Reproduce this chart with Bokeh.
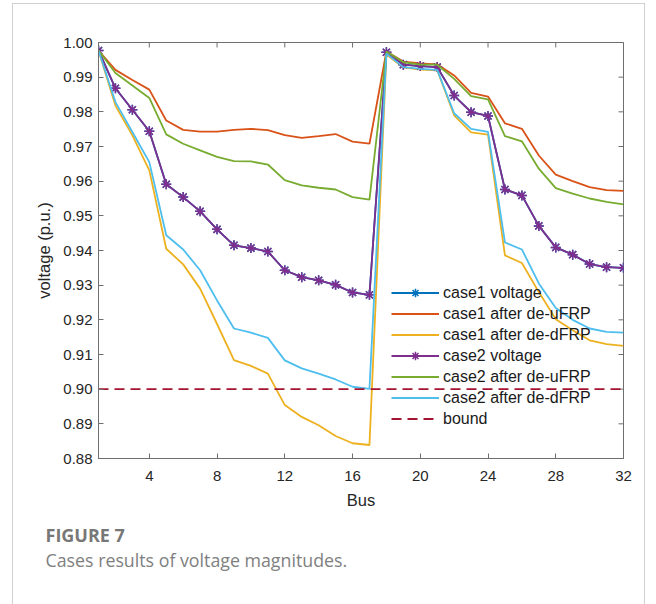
import math
from bokeh.plotting import figure
from bokeh.models import (FixedTicker, Legend, LegendItem, Title,
                          Range1d, PrintfTickFormatter)
from bokeh.embed import file_html
from bokeh.resources import INLINE

# ---------------- data ----------------
bus = list(range(1, 33))

case1_voltage = [0.9977, 0.9868, 0.9806, 0.9744, 0.9591, 0.9554, 0.9513, 0.9461,
                 0.9415, 0.9407, 0.9397, 0.9343, 0.9323, 0.9314, 0.9301, 0.9279,
                 0.9272, 0.9972, 0.9936, 0.9932, 0.9929, 0.9847, 0.9799, 0.9788,
                 0.9576, 0.9559, 0.9471, 0.9409, 0.9388, 0.9361, 0.9352, 0.9350]

case1_uFRP = [0.9977, 0.9921, 0.9892, 0.9864, 0.9775, 0.9748, 0.9743, 0.9743,
              0.9748, 0.9751, 0.9747, 0.9733, 0.9725, 0.9730, 0.9736, 0.9714,
              0.9708, 0.9974, 0.9945, 0.9940, 0.9937, 0.9905, 0.9855, 0.9844,
              0.9767, 0.9751, 0.9674, 0.9619, 0.9600, 0.9583, 0.9574, 0.9572]

case1_dFRP = [0.9977, 0.9818, 0.9732, 0.9631, 0.9405, 0.9360, 0.9290, 0.9188,
              0.9084, 0.9067, 0.9045, 0.8954, 0.8920, 0.8896, 0.8865, 0.8844,
              0.8839, 0.9965, 0.9928, 0.9922, 0.9920, 0.9790, 0.9741, 0.9734,
              0.9386, 0.9364, 0.9280, 0.9202, 0.9170, 0.9141, 0.9130, 0.9125]

case2_voltage = [0.9977, 0.9868, 0.9806, 0.9744, 0.9591, 0.9554, 0.9513, 0.9461,
                 0.9415, 0.9407, 0.9397, 0.9343, 0.9323, 0.9314, 0.9301, 0.9279,
                 0.9272, 0.9972, 0.9936, 0.9932, 0.9929, 0.9847, 0.9799, 0.9788,
                 0.9576, 0.9559, 0.9471, 0.9409, 0.9388, 0.9361, 0.9352, 0.9350]

case2_uFRP = [0.9977, 0.9912, 0.9876, 0.9840, 0.9735, 0.9708, 0.9689, 0.9670,
              0.9658, 0.9657, 0.9648, 0.9603, 0.9588, 0.9581, 0.9576, 0.9554,
              0.9547, 0.9974, 0.9943, 0.9936, 0.9936, 0.9895, 0.9845, 0.9836,
              0.9730, 0.9715, 0.9636, 0.9580, 0.9564, 0.9550, 0.9540, 0.9533]

case2_dFRP = [0.9977, 0.9828, 0.9742, 0.9655, 0.9444, 0.9403, 0.9343, 0.9256,
              0.9175, 0.9163, 0.9148, 0.9083, 0.9060, 0.9045, 0.9028, 0.9007,
              0.9001, 0.9968, 0.9929, 0.9924, 0.9921, 0.9796, 0.9751, 0.9742,
              0.9423, 0.9403, 0.9305, 0.9234, 0.9200, 0.9175, 0.9165, 0.9163]

bound = [0.90] * len(bus)

x_ticks = [4, 8, 12, 16, 20, 24, 28, 32]
y_ticks = [0.88, 0.89, 0.90, 0.91, 0.92, 0.93, 0.94, 0.95, 0.96, 0.97, 0.98, 0.99, 1.00]
x_lim = (1, 32)
y_lim = (0.88, 1.00)

legend_labels = ["case1 voltage", "case1 after de-uFRP", "case1 after de-dFRP",
                 "case2 voltage", "case2 after de-uFRP", "case2 after de-dFRP", "bound"]

fig_label = "FIGURE 7"
fig_caption = "Cases results of voltage magnitudes."

# ---------------- figure ----------------
AX = "#6f6f6f"
TXT = "#262626"
FONT = "Liberation Sans"

p = figure(width=631, height=600, output_backend="svg", toolbar_location=None,
           x_range=Range1d(*x_lim), y_range=Range1d(*y_lim),
           min_border_left=85, min_border_right=21, min_border_top=38,
           min_border_bottom=146, background_fill_color="white",
           border_fill_color="white")
p.margin = (4, 12, 0, 13)
p.styles = {"outline": "1px solid #d0d0d0"}
p.xgrid.visible = False
p.ygrid.visible = False
p.outline_line_color = AX
p.outline_line_width = 1

p.xaxis.ticker = FixedTicker(ticks=x_ticks)
p.yaxis.ticker = FixedTicker(ticks=y_ticks)
p.yaxis.formatter = PrintfTickFormatter(format="%.2f")
p.xaxis.axis_label = "Bus"
p.yaxis.axis_label = "voltage (p.u.)"

for ax in (p.xaxis[0], p.yaxis[0]):
    ax.axis_line_color = AX
    ax.major_tick_line_color = AX
    ax.major_tick_in = 5
    ax.major_tick_out = 0
    ax.minor_tick_line_color = None
    ax.major_label_text_font = FONT
    ax.major_label_text_font_size = "15px"
    ax.major_label_text_color = TXT
    ax.axis_label_text_font = FONT
    ax.axis_label_text_font_size = "16.5px"
    ax.axis_label_text_font_style = "normal"
    ax.axis_label_text_color = TXT
p.xaxis.major_label_standoff = 12
p.yaxis.major_label_standoff = 6
p.xaxis.axis_label_standoff = 7
p.yaxis.axis_label_standoff = 7

# mirrored inward ticks on the top and right edges (half of each dash is clipped)
p.scatter(x_ticks, [y_lim[1]] * len(x_ticks), marker="dash", size=10, angle=math.pi / 2,
          line_color=AX, line_width=1)
p.scatter([x_lim[1]] * len(y_ticks), y_ticks, marker="dash", size=10,
          line_color=AX, line_width=1)

LW = 1.8
r1l = p.line(bus, case1_voltage, line_color="#0072BD", line_width=LW)
r1m = p.scatter(bus, case1_voltage, marker="asterisk", size=10, line_color="#0072BD", line_width=1.5)
r2 = p.line(bus, case1_uFRP, line_color="#D95319", line_width=LW)
r3 = p.line(bus, case1_dFRP, line_color="#EDB120", line_width=LW)
r4l = p.line(bus, case2_voltage, line_color="#7E2F8E", line_width=LW)
r4m = p.scatter(bus, case2_voltage, marker="asterisk", size=10, line_color="#7E2F8E", line_width=1.5)
r5 = p.line(bus, case2_uFRP, line_color="#77AC30", line_width=LW)
r6 = p.line(bus, case2_dFRP, line_color="#4DBEEE", line_width=LW)
r7 = p.line(bus, bound, line_color="#A2142F", line_width=LW, line_dash="10 6")

items = [
    LegendItem(label=legend_labels[0], renderers=[r1l, r1m]),
    LegendItem(label=legend_labels[1], renderers=[r2]),
    LegendItem(label=legend_labels[2], renderers=[r3]),
    LegendItem(label=legend_labels[3], renderers=[r4l, r4m]),
    LegendItem(label=legend_labels[4], renderers=[r5]),
    LegendItem(label=legend_labels[5], renderers=[r6]),
    LegendItem(label=legend_labels[6], renderers=[r7]),
]
legend = Legend(items=items, location=(293, 29), padding=0, margin=0, spacing=0,
                glyph_width=48, glyph_height=21, label_height=21, label_standoff=4,
                background_fill_alpha=0, border_line_alpha=0,
                label_text_font=FONT, label_text_font_size="16px", label_text_color="#1a1a1a")
p.add_layout(legend)

# caption below the chart
p.add_layout(Title(text=fig_label, align="left", offset=-53, standoff=19,
                   text_font="Open Sans", text_font_style="bold", text_font_size="18px",
                   text_color="#777777"), "below")
p.add_layout(Title(text=fig_caption, align="left", offset=-53, standoff=-21,
                   text_font="Open Sans", text_font_style="normal", text_font_size="17.8px",
                   text_color="#808080"), "below")

open("out.html", "w").write(file_html(p, INLINE))
